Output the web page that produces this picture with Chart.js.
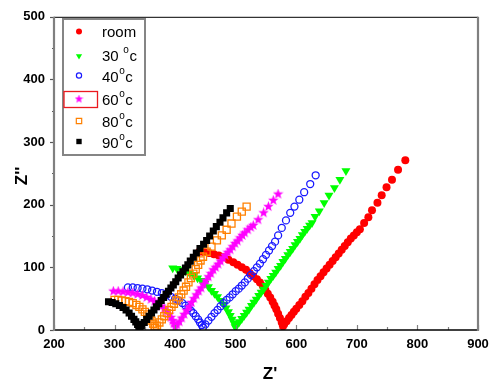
<!DOCTYPE html>
<html>
<head>
<meta charset="utf-8">
<script src="https://cdn.jsdelivr.net/npm/chart.js@4.4.1/dist/chart.umd.min.js"></script>
<style>
  html, body { margin: 0; padding: 0; background: #fff; }
  #wrap { width: 499px; height: 388px; }
</style>
</head>
<body>
<div id="wrap"><canvas id="nyquist" width="499" height="388"></canvas></div>
<script>
// ====== DATA (Z' / Z'') ======
const xTicks = [200, 300, 400, 500, 600, 700, 800, 900];
const yTicks = [0, 100, 200, 300, 400, 500];
const legendLabels = ["room", "30 °c", "40°c", "60°c", "80°c", "90°c"];

const roomX = [440,448,456,464,472,480,488,496,503,510,517,523,529,535,540,545,549,553,557,561,564,567,570,573,576,578,
  580,584,588,592,596,600,605,610,615,620,625,630,635,640,645,650,655,660,665,670,675,680,685,690,695,700,
  705,712,719,725,734,741,749,758,768,780];
const roomY = [125,124,123,121,119,116,112,108,104,100,96,91,86,81,76,70,64,58,52,45,39,33,26,19,12,6,
  9,14,19,24,29,34,40,46,53,59,66,73,80,86,92,98,104,110,116,122,128,134,140,146,151,156,
  161,171,180,191,203,215,228,240,256,271];

const c30X = [396,403,410,417,424,431,437,443,449,455,460,465,470,475,480,484,488,491,494,497,499,
  502,506,510,514,518,522,526,530,534,538,542,546,550,554,558,562,566,570,574,578,582,586,590,594,598,602,606,610,614,618,622,
  626,631,638,646,654,663,672,682];
const c30Y = [99,98,96,94,91,87,83,79,74,69,63,58,53,47,41,35,29,23,17,11,5,
  8,13,18,23,28,33,39,44,49,55,60,65,71,76,82,87,92,98,103,109,114,120,125,130,136,141,146,152,157,162,167,
  171,181,190,203,215,227,240,254];

const c40X = [322,330,338,346,354,362,370,378,386,393,400,406,412,417,422,426,430,434,438,441,444,446,
  450,455,460,465,470,475,480,485,490,495,500,505,510,515,520,525,530,535,540,545,550,555,560,565,570,576,583,590,597,605,613,623,632];
const c40Y = [68,68,67,66,65,63,61,59,56,53,50,47,43,39,35,31,27,22,17,12,8,4,
  9,15,21,27,32,38,43,48,52,57,62,66,71,76,82,88,94,100,106,113,120,127,134,141,151,163,175,187,197,208,220,233,247];

const c60X = [298,306,314,322,330,338,346,353,360,366,372,377,382,386,390,393,396,398,400,
  403,407,411,415,419,423,427,431,435,439,443,447,451,455,459,463,467,471,475,479,483,487,491,495,499,503,507,511,515,520,525,529,537,546,554,562,570];
const c60Y = [62,62,61,60,59,57,55,52,49,46,42,38,34,30,25,20,15,10,5,
  8,13,19,25,31,37,44,50,56,62,67,73,79,85,90,96,100,105,110,115,119,124,128,133,138,142,147,151,155,160,164,167,176,187,197,207,217];

const c80X = [300,306,312,318,324,330,336,341,346,350,354,358,361,364,366,367,
  370,374,378,382,386,390,394,398,402,406,410,414,418,422,426,430,434,438,442,446,452,460,469,477,485,493,502,510,518];
const c80Y = [48,48,47,46,45,43,40,37,33,29,25,20,15,10,6,3,
  7,12,17,22,27,32,37,42,47,52,57,63,69,76,83,90,97,104,111,117,125,133,143,151,160,170,181,189,197];

const c90X = [290,296,302,308,314,319,324,328,332,335,338,340,342,
  345,349,353,357,361,365,369,373,377,381,385,389,393,397,401,405,409,413,417,421,425,430,435,441,447,452,457,463,468,474,479,485,491];
const c90Y = [45,44,42,39,36,32,27,22,17,13,9,6,3,
  7,12,17,22,27,32,37,42,47,52,57,62,67,72,77,83,88,93,99,104,110,116,123,130,137,143,150,158,165,172,179,187,194];

// ====== MARKERS ======
function makeStar(size, color) {
  const c = document.createElement("canvas");
  c.width = size; c.height = size;
  const g = c.getContext("2d");
  const cx = size / 2, cy = size / 2, ro = size / 2, ri = ro * 0.42;
  g.beginPath();
  for (let i = 0; i < 10; i++) {
    const r = i % 2 === 0 ? ro : ri;
    const a = -Math.PI / 2 + i * Math.PI / 5;
    g.lineTo(cx + r * Math.cos(a), cy + r * Math.sin(a));
  }
  g.closePath();
  g.fillStyle = color;
  g.fill();
  return c;
}
const starBig = makeStar(11, "#ff00ff");
const starSmall = makeStar(9, "#ff00ff");

function pts(xs, ys) { return xs.map((x, i) => ({ x: x, y: ys[i] })); }

const FONT = "'Liberation Sans', Arial, sans-serif";

const series = [
  { data: pts(roomX, roomY), pointStyle: "circle", pointRadius: 4, backgroundColor: "#ff0000", borderColor: "#ff0000", pointBorderWidth: 0, order: 5 },
  { data: pts(c30X, c30Y), pointStyle: "triangle", rotation: 180, pointRadius: 5.2, backgroundColor: "#00ff00", borderColor: "#00ff00", pointBorderWidth: 0, order: 4 },
  { data: pts(c40X, c40Y), pointStyle: "circle", pointRadius: 3.5, backgroundColor: "rgba(0,0,0,0)", borderColor: "#1a1aff", pointBorderWidth: 1.3, order: 3 },
  { data: pts(c60X, c60Y), pointStyle: starBig, pointRadius: 5, backgroundColor: "#ff00ff", borderColor: "#ff00ff", pointBorderWidth: 0, order: 2 },
  { data: pts(c80X, c80Y), pointStyle: "rect", pointRadius: 5, backgroundColor: "rgba(0,0,0,0)", borderColor: "#ff8000", pointBorderWidth: 1.3, order: 1 },
  { data: pts(c90X, c90Y), pointStyle: "rect", pointRadius: 5, backgroundColor: "#000000", borderColor: "#000000", pointBorderWidth: 0, order: 0 }
];
series.forEach((s, i) => { s.label = legendLabels[i]; s.showLine = false; s.pointHoverRadius = s.pointRadius; });

// legend marker look (smaller than in the plot)
const legendMarks = [
  { style: "circle", r: 3, fill: "#ff0000", stroke: "#ff0000", bw: 0 },
  { style: "triangle", r: 3.6, rot: 180, fill: "#00ff00", stroke: "#00ff00", bw: 0 },
  { style: "circle", r: 2.6, fill: "rgba(0,0,0,0)", stroke: "#1a1aff", bw: 1.2 },
  { style: starSmall, r: 4, fill: "#ff00ff", stroke: "#ff00ff", bw: 0 },
  { style: "rect", r: 3.8, fill: "rgba(0,0,0,0)", stroke: "#ff8000", bw: 1.2 },
  { style: "rect", r: 3.8, fill: "#000", stroke: "#000", bw: 0 }
];

// ====== FRAME, TICK MARKS, TITLES, LEGEND ======
const framePlugin = {
  id: "frame",
  afterDatasetsDraw(chart) {
    const { ctx, chartArea: a, scales: { x, y } } = chart;
    ctx.save();
    // x tick marks, inside
    ctx.strokeStyle = "#808080";
    ctx.lineWidth = 1.2;
    const xStep = xTicks[1] - xTicks[0];
    for (let v = x.min; v <= x.max; v += xStep / 2) {
      const px = Math.round(x.getPixelForValue(v)) + 0.5;
      const len = (v - x.min) % xStep === 0 ? 5 : 3;
      ctx.beginPath(); ctx.moveTo(px, a.bottom); ctx.lineTo(px, a.bottom - len); ctx.stroke();
    }
    // y tick marks, outside
    ctx.strokeStyle = "#555";
    const yStep = yTicks[1] - yTicks[0];
    for (let v = y.min; v <= y.max; v += yStep / 2) {
      const py = Math.round(y.getPixelForValue(v)) + 0.5;
      const len = (v - y.min) % yStep === 0 ? 4 : 2;
      ctx.beginPath(); ctx.moveTo(a.left, py); ctx.lineTo(a.left - len, py); ctx.stroke();
    }
    // frame
    ctx.strokeStyle = "#000";
    ctx.lineWidth = 1;
    ctx.beginPath(); ctx.moveTo(a.left, a.top + 0.5); ctx.lineTo(a.right, a.top + 0.5); ctx.stroke();
    ctx.lineWidth = 1.6;
    ctx.beginPath(); ctx.moveTo(a.left, a.bottom); ctx.lineTo(a.right, a.bottom); ctx.stroke();
    ctx.strokeStyle = "#808080";
    ctx.lineWidth = 2.2;
    ctx.beginPath(); ctx.moveTo(a.left, a.top); ctx.lineTo(a.left, a.bottom + 1); ctx.stroke();
    ctx.beginPath(); ctx.moveTo(a.right, a.top); ctx.lineTo(a.right, a.bottom + 1); ctx.stroke();

    // axis titles
    ctx.fillStyle = "#000";
    ctx.font = "bold 17px " + FONT;
    ctx.textAlign = "center";
    ctx.textBaseline = "middle";
    ctx.fillText("Z'", (a.left + a.right) / 2 + 4, 374);
    ctx.save();
    ctx.translate(22, 176);
    ctx.rotate(-Math.PI / 2);
    ctx.fillText("Z''", 0, 0);
    ctx.restore();

    // legend box
    ctx.fillStyle = "#fff";
    ctx.fillRect(63, 19, 82, 136);
    ctx.strokeStyle = "#858585";
    ctx.lineWidth = 2;
    ctx.strokeRect(63, 19, 82, 136);

    const markY = [31.5, 56, 75.5, 99, 121, 141.5];
    const baseY = [36.5, 61, 82, 105, 127, 148];
    legendMarks.forEach((m, i) => {
      ctx.fillStyle = m.fill;
      ctx.strokeStyle = m.stroke;
      ctx.lineWidth = m.bw;
      Chart.helpers.drawPoint(ctx, { pointStyle: m.style, radius: m.r, rotation: m.rot || 0, borderWidth: m.bw }, 79, markY[i]);
    });
    // red selection box round the 60 marker
    ctx.strokeStyle = "rgb(235,25,30)";
    ctx.lineWidth = 1.3;
    ctx.strokeRect(64, 91.5, 33.5, 16);

    ctx.fillStyle = "#000";
    ctx.textAlign = "left";
    ctx.textBaseline = "alphabetic";
    legendLabels.forEach((lab, i) => {
      let xx = 102;
      const parts = lab.split("°");
      ctx.font = "15px " + FONT;
      ctx.fillText(parts[0], xx, baseY[i]);
      if (parts.length > 1) {
        xx += ctx.measureText(parts[0]).width;
        ctx.font = "10px " + FONT;
        ctx.fillText("o", xx + 0.5, baseY[i] - 8);
        xx += ctx.measureText("o").width + 1;
        ctx.font = "15px " + FONT;
        ctx.fillText(parts[1], xx, baseY[i]);
      }
    });
    ctx.restore();
  }
};

const ctx = document.getElementById("nyquist").getContext("2d");
new Chart(ctx, {
  type: "scatter",
  data: { datasets: series },
  options: {
    responsive: false,
    animation: false,
    layout: { padding: { left: 0, top: 16, right: 21, bottom: 0 } },
    plugins: { legend: { display: false }, tooltip: { enabled: false } },
    scales: {
      x: {
        type: "linear",
        min: xTicks[0], max: xTicks[xTicks.length - 1],
        afterBuildTicks: (s) => { s.ticks = xTicks.map(v => ({ value: v })); },
        afterFit: (s) => { s.height = 58; },
        grid: { display: false, drawTicks: false },
        border: { display: false },
        ticks: { color: "#000", font: { family: FONT, size: 13, weight: "bold" }, padding: 7, maxRotation: 0 }
      },
      y: {
        type: "linear",
        min: yTicks[0], max: yTicks[yTicks.length - 1],
        afterBuildTicks: (s) => { s.ticks = yTicks.map(v => ({ value: v })); },
        afterFit: (s) => { s.width = 54; },
        grid: { display: false, drawTicks: false },
        border: { display: false },
        ticks: { color: "#000", font: { family: FONT, size: 13, weight: "bold" }, padding: 9 }
      }
    }
  },
  plugins: [framePlugin]
});
</script>
</body>
</html>
